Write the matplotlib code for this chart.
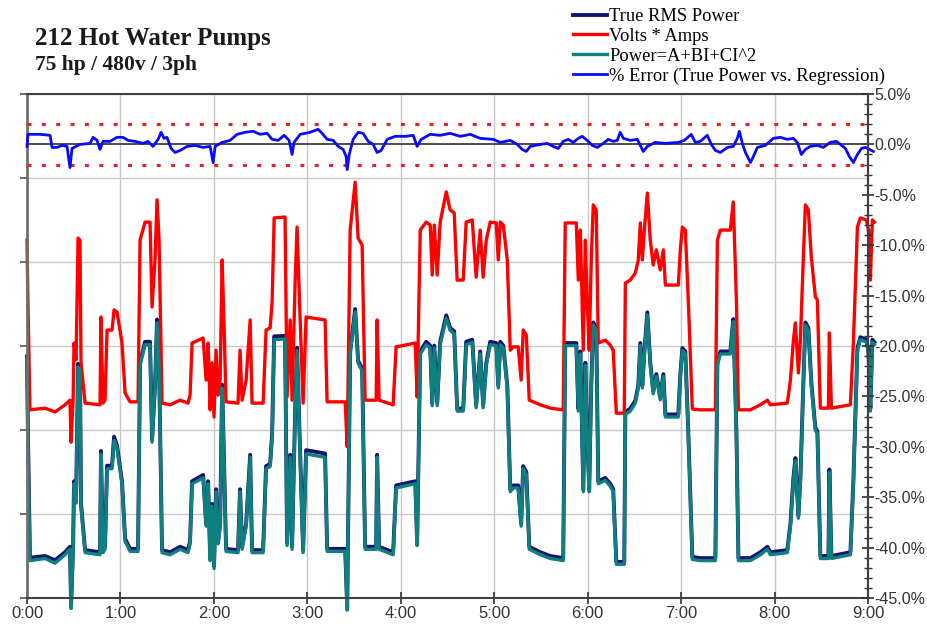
import matplotlib.pyplot as plt
from matplotlib.ticker import MultipleLocator, FuncFormatter

# time in minutes from 0:00, power in kW (left axis, unlabeled)
minutes = [0.0, 0.6, 1.9, 11.6, 18.0, 24.4, 27.6, 28.3, 29.6, 30.2, 31.5, 32.8, 34.0, 34.7, 37.3,
           46.9, 47.5, 48.8, 50.1, 51.4, 54.6, 55.9, 57.8, 61.0, 63.0, 66.2, 71.3, 72.6, 75.8, 79.0,
           80.3, 82.2, 83.5, 84.8, 86.7, 91.9, 98.3, 103.4, 104.7, 106.0, 113.1, 115.0, 116.3, 117.6,
           118.8, 120.1, 121.4, 122.7, 124.0, 125.3, 126.6, 127.8, 135.5, 136.8, 138.1, 140.7, 143.3,
           144.5, 151.6, 153.5, 156.1, 157.4, 158.7, 165.7, 167.0, 169.0, 170.2, 172.2, 173.4, 175.4,
           177.3, 179.2, 191.4, 192.7, 204.3, 205.6, 207.5, 210.7, 212.6, 215.2, 217.1, 224.2, 224.8,
           226.1, 235.1, 237.0, 249.3, 250.5, 252.5, 256.3, 258.9, 260.2, 261.5, 263.4, 265.3, 269.2,
           271.7, 274.3, 276.2, 280.1, 282.0, 285.9, 288.4, 291.0, 292.9, 294.9, 297.4, 301.3, 302.6,
           303.9, 305.8, 308.4, 310.3, 312.2, 315.4, 317.3, 318.6, 320.6, 322.5, 329.6, 336.0, 344.3,
           345.6, 352.7, 354.0, 355.3, 357.2, 358.5, 359.7, 361.0, 362.3, 363.6, 365.5, 366.8, 371.3,
           374.5, 376.4, 378.4, 383.5, 384.2, 387.4, 390.6, 392.5, 393.8, 395.1, 396.4, 398.3, 400.2,
           402.1, 404.1, 406.6, 408.6, 409.9, 418.2, 419.5, 420.8, 422.7, 424.6, 427.2, 432.3, 442.0,
           443.3, 445.2, 451.6, 453.5, 455.5, 456.8, 464.5, 470.9, 475.4, 477.3, 488.2, 490.2, 492.1,
           493.4, 495.3, 496.6, 498.5, 499.8, 501.7, 503.6, 506.2, 507.5, 509.4, 514.6, 515.2, 516.5,
           528.7, 530.6, 533.2, 535.1, 539.0, 540.3, 541.5, 542.8, 544.1]

volt_amps = [85.2, 70.5, 44.8, 45.2, 44.3, 46.0, 47.1, 37.1, 47.1, 60.7, 56.7, 85.7, 85.2, 56.0, 46.4,
             46.0, 66.9, 46.4, 47.1, 63.8, 63.8, 68.6, 68.1, 60.7, 48.8, 46.7, 46.7, 85.2, 89.5, 89.5,
             69.3, 80.5, 94.8, 85.2, 46.4, 46.0, 47.1, 46.4, 48.3, 60.7, 61.9, 51.9, 60.7, 44.8,
             56.0, 43.1, 59.0, 48.3, 51.9, 80.5, 63.8, 46.7, 46.4, 59.0, 47.1, 51.9, 66.2,
             46.4, 46.4, 63.8, 64.3, 70.5, 90.5, 90.7, 47.9, 66.2, 47.1, 75.7, 88.3, 66.2,
             46.4, 66.9, 66.2, 46.7, 46.7, 36.0, 87.6, 99.0, 85.7, 84.0, 47.1, 47.1, 66.2,
             47.1, 46.0, 59.8, 60.7, 47.9, 87.6, 89.5, 88.8, 76.9, 88.8, 76.9, 89.5, 96.7,
             92.4, 91.7, 75.7, 75.7, 89.5, 90.0, 76.4, 87.6, 76.4, 85.2, 89.5, 89.3, 80.5,
             89.5, 88.8, 80.5, 59.0, 59.8, 59.8, 51.9, 63.8, 62.6, 47.1, 46.0, 45.2, 44.8,
             89.3, 89.3, 75.7, 87.6, 59.0, 85.2, 70.5, 59.0, 80.5, 93.6, 92.4, 60.7, 61.4,
             60.2, 59.0, 44.0, 44.0, 75.0, 75.7, 77.4, 80.5, 89.3, 80.5, 87.6, 96.4, 85.2,
             79.3, 82.9, 78.1, 82.9, 74.5, 74.5, 82.9, 88.3, 87.6, 71.0, 45.0, 44.8, 44.8,
             85.2, 87.6, 87.6, 94.3, 71.0, 44.8, 44.8, 46.0, 47.1, 46.0, 46.4, 51.9, 61.4,
             65.5, 53.6, 61.4, 81.2, 93.6, 92.4, 81.2, 71.7, 71.0, 45.2, 45.2, 63.1, 45.2,
             46.0, 60.7, 88.3, 90.5, 90.0, 87.6, 75.7, 90.0, 89.5]

regression = [57.0, 38.5, 8.9, 9.4, 8.3, 10.3, 11.6, -2.5, 11.6, 27.2, 22.6, 55.0, 54.5, 21.8, 10.8,
              10.3, 34.3, 10.8, 11.6, 30.8, 30.8, 37.5, 35.7, 27.2, 13.5, 11.1, 11.1, 55.4, 60.3, 60.3,
              37.1, 50.0, 65.5, 55.4, 10.8, 10.3, 11.6, 10.8, 12.9, 27.2, 28.6, 17.1, 27.2, 8.9,
              21.8, 7.0, 25.3, 12.9, 17.1, 50.0, 30.8, 11.1, 10.8, 25.3, 11.6, 17.1, 33.5,
              10.8, 10.8, 30.8, 31.3, 38.5, 61.5, 61.7, 12.5, 33.5, 11.6, 44.5, 58.9, 33.5,
              10.8, 34.3, 33.5, 11.1, 11.1, -2.9, 58.1, 68.1, 55.9, 54.0, 11.6, 11.6, 33.5,
              11.6, 10.3, 26.2, 27.2, 12.5, 58.1, 60.3, 59.5, 45.8, 59.5, 45.8, 60.3, 66.6,
              63.7, 62.9, 44.5, 44.5, 60.3, 60.9, 45.3, 58.1, 45.3, 55.4, 60.3, 60.1, 50.0,
              60.3, 59.5, 50.0, 25.3, 26.2, 26.2, 17.1, 30.8, 29.4, 11.6, 10.3, 9.4, 8.9,
              60.1, 60.1, 44.5, 58.1, 25.3, 55.4, 38.5, 25.3, 50.0, 65.0, 63.7, 27.2, 28.0,
              26.6, 25.3, 8.0, 8.0, 43.7, 44.5, 46.4, 50.0, 60.1, 50.0, 58.1, 67.4, 55.4,
              48.6, 52.7, 47.2, 52.7, 43.1, 43.1, 52.7, 58.9, 58.1, 39.1, 9.2, 8.9, 8.9,
              55.4, 58.1, 58.1, 65.8, 39.1, 8.9, 8.9, 10.3, 11.6, 10.3, 10.8, 17.1, 28.0,
              32.7, 19.0, 28.0, 50.8, 65.0, 63.7, 50.8, 39.9, 39.1, 9.4, 9.4, 30.0, 9.4,
              10.3, 27.2, 58.9, 61.5, 60.9, 58.1, 44.5, 60.9, 60.3]

true_rms = [57.5, 39.0, 9.6, 10.0, 9.0, 10.9, 12.2, -2.0, 12.3, 27.8, 23.2, 55.8, 55.2, 22.4, 11.4,
            10.9, 35.0, 11.4, 12.2, 31.5, 31.5, 38.4, 36.3, 27.8, 14.1, 11.7, 11.7, 56.0, 61.0, 61.0,
            37.7, 50.6, 66.3, 56.0, 11.4, 10.9, 12.2, 11.4, 13.5, 27.8, 29.3, 17.7, 27.8, 9.5,
            22.4, 7.6, 25.9, 13.5, 17.7, 50.8, 31.4, 11.7, 11.4, 25.9, 12.2, 17.7, 34.1,
            11.4, 11.4, 31.4, 31.9, 39.1, 62.3, 62.4, 13.1, 34.1, 12.2, 45.1, 59.6, 34.3,
            11.4, 35.2, 34.4, 11.7, 11.7, -2.4, 58.7, 68.8, 56.5, 54.6, 12.2, 12.2, 34.1,
            12.2, 10.9, 26.8, 27.8, 13.1, 58.7, 61.0, 60.1, 46.4, 60.1, 46.4, 61.0, 67.3,
            64.3, 63.5, 45.1, 45.1, 61.0, 61.5, 45.9, 58.7, 45.9, 56.0, 61.0, 60.7, 50.6,
            61.0, 60.1, 50.6, 25.9, 26.8, 26.8, 17.7, 31.4, 30.0, 12.2, 10.9, 10.0, 9.5,
            60.7, 60.7, 45.1, 58.7, 25.9, 56.0, 39.1, 25.9, 50.6, 65.6, 64.3, 27.8, 28.6,
            27.2, 25.9, 8.6, 8.6, 44.3, 45.1, 47.0, 50.6, 60.7, 50.6, 58.7, 68.0, 56.0,
            49.2, 53.3, 47.8, 53.3, 43.7, 43.7, 53.3, 59.5, 58.7, 39.7, 9.8, 9.5, 9.5,
            56.0, 58.7, 58.7, 66.4, 39.7, 9.5, 9.5, 10.9, 12.2, 10.9, 11.4, 17.7, 28.6,
            33.3, 19.6, 28.6, 51.4, 65.6, 64.3, 51.4, 40.5, 39.7, 10.0, 10.0, 30.6, 10.0,
            10.9, 27.8, 59.5, 62.1, 61.5, 58.7, 45.1, 61.5, 60.9]

# % error (true power vs. regression), right axis
err_minutes = [0.0, 0.6, 8.4, 14.8, 16.1, 19.3, 22.5, 25.7, 27.6, 28.9, 34.0, 40.5, 42.4, 45.0, 46.9,
               48.8, 53.3, 57.8, 61.7, 64.9, 69.4, 74.5, 77.7, 80.9, 84.2, 86.1, 88.0, 89.9, 92.5,
               95.1, 98.3, 102.8, 107.9, 113.1, 117.6, 119.5, 120.8, 125.3, 130.4, 134.9, 140.0,
               145.2, 149.7, 154.2, 157.4, 161.2, 165.1, 168.3, 170.2, 171.5, 175.4, 181.8, 186.9,
               189.5, 192.7, 196.6, 199.8, 203.0, 204.9, 205.6, 206.9, 209.4, 212.6, 215.8, 219.1,
               222.3, 224.8, 227.4, 231.3, 236.4, 242.8, 248.0, 250.5, 253.1, 258.9, 265.3, 271.7,
               278.2, 284.6, 291.0, 299.4, 303.9, 310.3, 314.8, 318.0, 320.6, 323.1, 329.6, 334.1,
               337.9, 341.1, 344.3, 347.5, 350.8, 354.0, 356.5, 359.7, 363.0, 366.2, 370.0, 373.2,
               376.4, 379.0, 380.9, 382.9, 387.4, 391.9, 395.7, 398.3, 403.4, 409.9, 418.2, 422.1,
               426.5, 429.1, 432.3, 436.8, 439.4, 442.0, 445.2, 449.7, 453.5, 456.1, 457.4, 459.3,
               461.3, 464.5, 466.4, 469.0, 474.1, 479.2, 483.7, 488.2, 492.1, 494.6, 497.2, 499.8,
               502.9, 507.5, 511.3, 515.8, 519.7, 522.3, 525.5, 528.0, 530.6, 533.2, 535.8, 538.3,
               541.0, 543.5]
err_pct = [-0.2, 1.0, 1.0, 0.9, -0.3, -0.3, -0.1, -0.2, -2.3, -0.4, 0.0, 0.1, 0.7, 0.4, -0.5,
           0.3, 0.3, 0.7, 0.7, 0.4, 0.3, 0.1, 0.3, -0.2, 0.5, 1.2, 0.6, 0.7, -0.4,
           -0.8, -0.6, -0.2, -0.1, -0.3, -0.2, -1.8, -0.2, 0.2, 0.4, 1.0, 1.2,
           1.3, 1.0, 1.1, 0.5, 0.4, 0.9, 0.4, -1.0, 0.2, 1.0, 1.2, 1.5,
           1.1, 0.5, 0.4, -0.2, -0.5, -1.2, -2.5, -1.0, 0.5, 1.2, 1.1, 0.3,
           0.0, -0.8, -0.6, 0.5, 0.8, 0.8, 0.9, -0.2, 0.5, 1.0, 0.9, 1.1,
           0.8, 1.0, 0.6, 0.5, 0.2, 0.4, 0.0, -0.5, -0.7, -0.2, 0.0, 0.1,
           -0.2, -0.4, 0.3, 0.5, 0.2, 0.6, 0.8, 0.4, -0.1, -0.3, 0.1, 0.5,
           0.3, 0.4, 1.2, 0.6, 0.4, 0.5, -0.7, -0.2, 0.2, 0.1, 0.2, 0.4,
           1.0, 0.2, 0.3, 0.9, 0.0, -0.6, -0.8, -0.3, -0.2, 0.6, 1.3, 0.1,
           -0.8, -1.8, -1.2, -0.3, -0.1, 0.6, 0.7, 0.5, 0.6, 0.2, -1.0, -0.5,
           -0.2, -0.1, -0.3, 0.2, 0.3, 0.0, -0.4, -1.2, -1.8, -1.0, -0.4, -0.3,
           -0.5, -0.7]

hour_labels = ["0:00", "1:00", "2:00", "3:00", "4:00", "5:00", "6:00", "7:00", "8:00", "9:00"]

plt.rcParams['font.family'] = 'Liberation Sans'

fig = plt.figure(figsize=(9.27, 6.39), dpi=100)
ax = fig.add_axes([27 / 927, 1 - 598 / 639, 841 / 927, 504 / 639])

l_rms, = ax.plot(minutes, true_rms, color='#141470', lw=2.8, clip_on=False, label='True RMS Power')
l_va, = ax.plot(minutes, volt_amps, color='#ff0000', lw=2.4, clip_on=False, label='Volts * Amps')
l_reg, = ax.plot(minutes, regression, color='#0e8080', lw=2.4, clip_on=False, label='Power=A+BI+CI^2')

ax.set_xlim(0, 540)
ax.set_ylim(0, 120)
ax.set_xticks(range(0, 541, 60))
ax.set_xticklabels(hour_labels)
ax.set_yticks(range(0, 121, 20))
ax.grid(True, color='#c8c8c8', lw=1)
ax.set_axisbelow(True)
ax.tick_params(axis='x', direction='inout', length=8, width=1.2, color='#303030',
               labelsize=12, labelcolor='#333333', pad=2)
ax.tick_params(axis='y', labelleft=False, direction='out', length=5, width=1.2, color='#505050')
for s in ['top', 'bottom', 'right']:
    ax.spines[s].set_color('#404040')
    ax.spines[s].set_linewidth(1.5)
ax.spines['left'].set_color('#707070')
ax.spines['left'].set_linewidth(2)

ax2 = ax.twinx()
ax2.set_ylim(-45, 5)
ax2.set_yticks(range(-45, 6, 5))
ax2.yaxis.set_minor_locator(MultipleLocator(1))
ax2.yaxis.set_major_formatter(FuncFormatter(lambda v, p: f"{v:.1f}%"))
ax2.axhline(0, color='#404040', lw=1.3)
ax2.axhline(2, color='#e8202a', lw=2.2, ls=(0, (1.3, 3.4)))
ax2.axhline(-2, color='#e8202a', lw=2.2, ls=(0, (1.3, 3.4)))
l_err, = ax2.plot(err_minutes, err_pct, color='#0a0aff', lw=2, clip_on=False,
                  label='% Error (True Power vs. Regression)')
ax2.tick_params(axis='y', which='major', direction='inout', length=9, width=1.2, color='#303030',
                labelsize=11.5, labelcolor='#333333', pad=0)
ax2.tick_params(axis='y', which='minor', direction='inout', length=6, width=1.0, color='#303030')
for s in ['top', 'bottom', 'left']:
    ax2.spines[s].set_visible(False)
ax2.spines['right'].set_color('#404040')
ax2.spines['right'].set_linewidth(1.5)

fig.text(35 / 927, 1 - 45 / 639, "212 Hot Water Pumps", family='Liberation Serif',
         weight='bold', size=18, va='baseline', color='#1a1a1a')
fig.text(35 / 927, 1 - 70 / 639, "75 hp / 480v / 3ph", family='Liberation Serif',
         weight='bold', size=15.5, va='baseline', color='#1a1a1a')

fig.legend(handles=[l_rms, l_va, l_reg, l_err], loc='upper left',
           bbox_to_anchor=(573 / 927, 1 - 8 / 639), frameon=False, borderpad=0,
           borderaxespad=0, handlelength=1.85, handletextpad=0.12, labelspacing=0.15,
           prop={'family': 'Liberation Serif', 'size': 13.3})

fig.savefig('out.png', dpi=100)
